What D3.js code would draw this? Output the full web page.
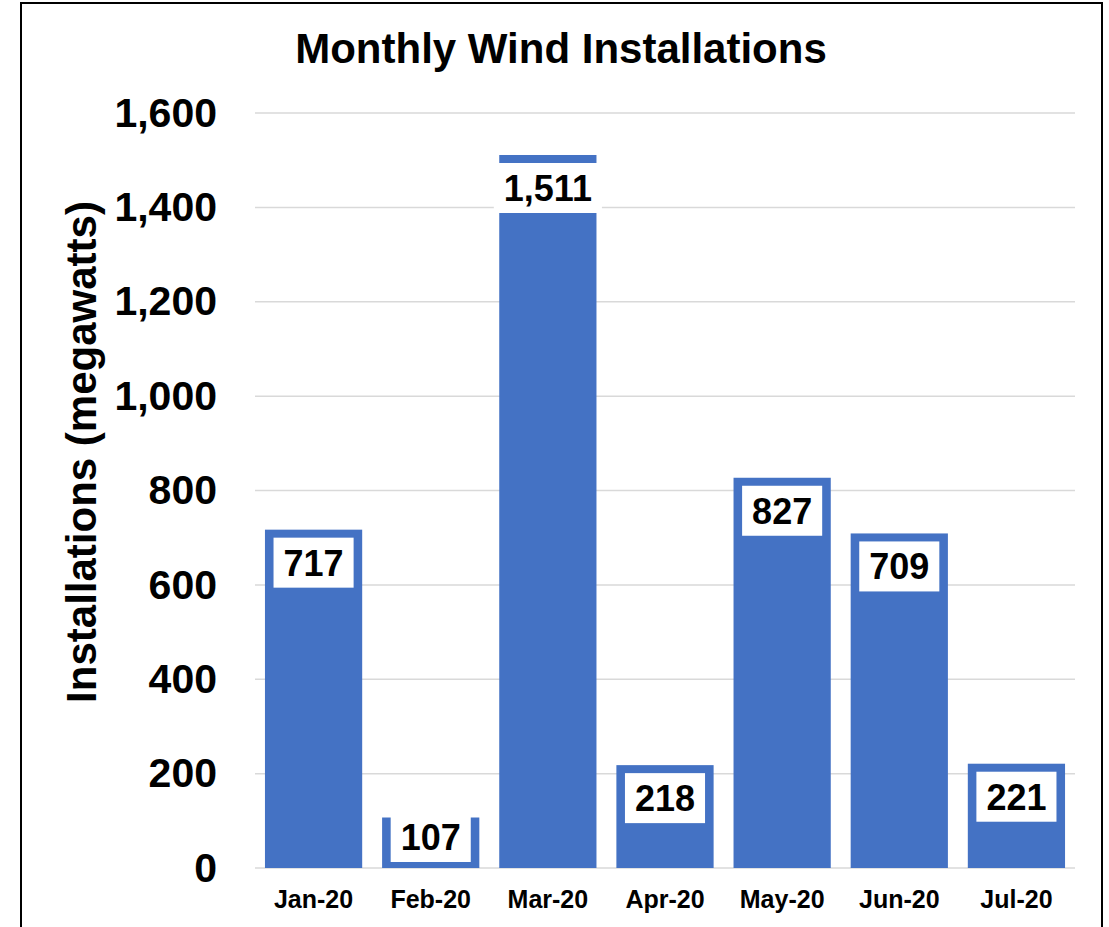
<!DOCTYPE html>
<html>
<head>
<meta charset="utf-8">
<script src="https://cdn.jsdelivr.net/npm/d3@7"></script>
<style>
  body { margin: 0; background: #fff; }
  svg { display: block; font-family: "Liberation Sans", Arial, sans-serif; font-weight: bold; }
</style>
</head>
<body>
<svg id="chart" width="1109" height="927"></svg>
<script>
// values
const months = ["Jan-20", "Feb-20", "Mar-20", "Apr-20", "May-20", "Jun-20", "Jul-20"];
const installs = [717, 107, 1511, 218, 827, 709, 221];
const yTicks = [0, 200, 400, 600, 800, 1000, 1200, 1400, 1600];

const width = 1109, height = 927;
const margin = {top: 113, right: 34, bottom: 59, left: 255};

const svg = d3.select("#chart");

// outer frame (bottom edge runs off the picture)
svg.append("rect")
    .attr("x", 21).attr("y", 3)
    .attr("width", 1081).attr("height", 960)
    .attr("fill", "none")
    .attr("stroke", "#000")
    .attr("stroke-width", 2);

const x = d3.scaleBand()
    .domain(months)
    .range([margin.left, width - margin.right])
    .paddingInner(0.17)
    .paddingOuter(0.085);

const y = d3.scaleLinear()
    .domain([0, 1600])
    .range([height - margin.bottom, margin.top]);

// gridlines
svg.append("g")
  .selectAll("line")
  .data(yTicks)
  .join("line")
    .attr("x1", margin.left)
    .attr("x2", width - margin.right)
    .attr("y1", d => y(d))
    .attr("y2", d => y(d))
    .attr("stroke", "#d9d9d9")
    .attr("stroke-width", 1.5);

// y axis labels
const yAxis = svg.append("g")
    .attr("transform", `translate(${margin.left},0)`)
    .call(d3.axisLeft(y).tickValues(yTicks).tickFormat(d3.format(",d")).tickSize(0).tickPadding(38));
yAxis.select(".domain").remove();
yAxis.selectAll("text")
    .style("font-family", "'Liberation Sans', Arial, sans-serif")
    .style("font-size", "41px")
    .style("font-weight", "bold")
    .attr("fill", "#000");

// x axis labels
const xAxis = svg.append("g")
    .attr("transform", `translate(0,${height - margin.bottom})`)
    .call(d3.axisBottom(x).tickSize(0).tickPadding(22));
xAxis.select(".domain").remove();
xAxis.selectAll("text")
    .style("font-family", "'Liberation Sans', Arial, sans-serif")
    .style("font-size", "25px")
    .style("font-weight", "bold")
    .attr("fill", "#000");

// bars
const data = months.map((m, i) => ({month: m, value: installs[i]}));

svg.append("g")
  .selectAll("rect")
  .data(data)
  .join("rect")
    .attr("x", d => x(d.month))
    .attr("y", d => y(d.value))
    .attr("width", x.bandwidth())
    .attr("height", d => y(0) - y(d.value))
    .attr("fill", "#4472c4");

// data labels with white boxes, inside end
const fmt = d3.format(",d");
const labels = svg.append("g")
  .selectAll("g")
  .data(data)
  .join("g")
    .attr("transform", d => {
      const cy = Math.min(y(d.value) + 33, y(0) - 31);
      return `translate(${x(d.month) + x.bandwidth() / 2},${cy})`;
    });

labels.append("text")
    .attr("text-anchor", "middle")
    .attr("dy", "0.36em")
    .style("font-size", "36px")
    .attr("fill", "#000")
    .text(d => fmt(d.value));

labels.each(function() {
  const g = d3.select(this);
  const w = g.select("text").node().getComputedTextLength() + 20;
  g.insert("rect", "text")
      .attr("x", -w / 2)
      .attr("y", -25)
      .attr("width", w)
      .attr("height", 50)
      .attr("fill", "#fff");
});

// title
svg.append("text")
    .attr("x", 561)
    .attr("y", 63)
    .attr("text-anchor", "middle")
    .style("font-size", "42px")
    .text("Monthly Wind Installations");

// y axis title
svg.append("text")
    .attr("transform", "translate(96,452) rotate(-90)")
    .attr("text-anchor", "middle")
    .style("font-size", "42px")
    .text("Installations (megawatts)");
</script>
</body>
</html>
